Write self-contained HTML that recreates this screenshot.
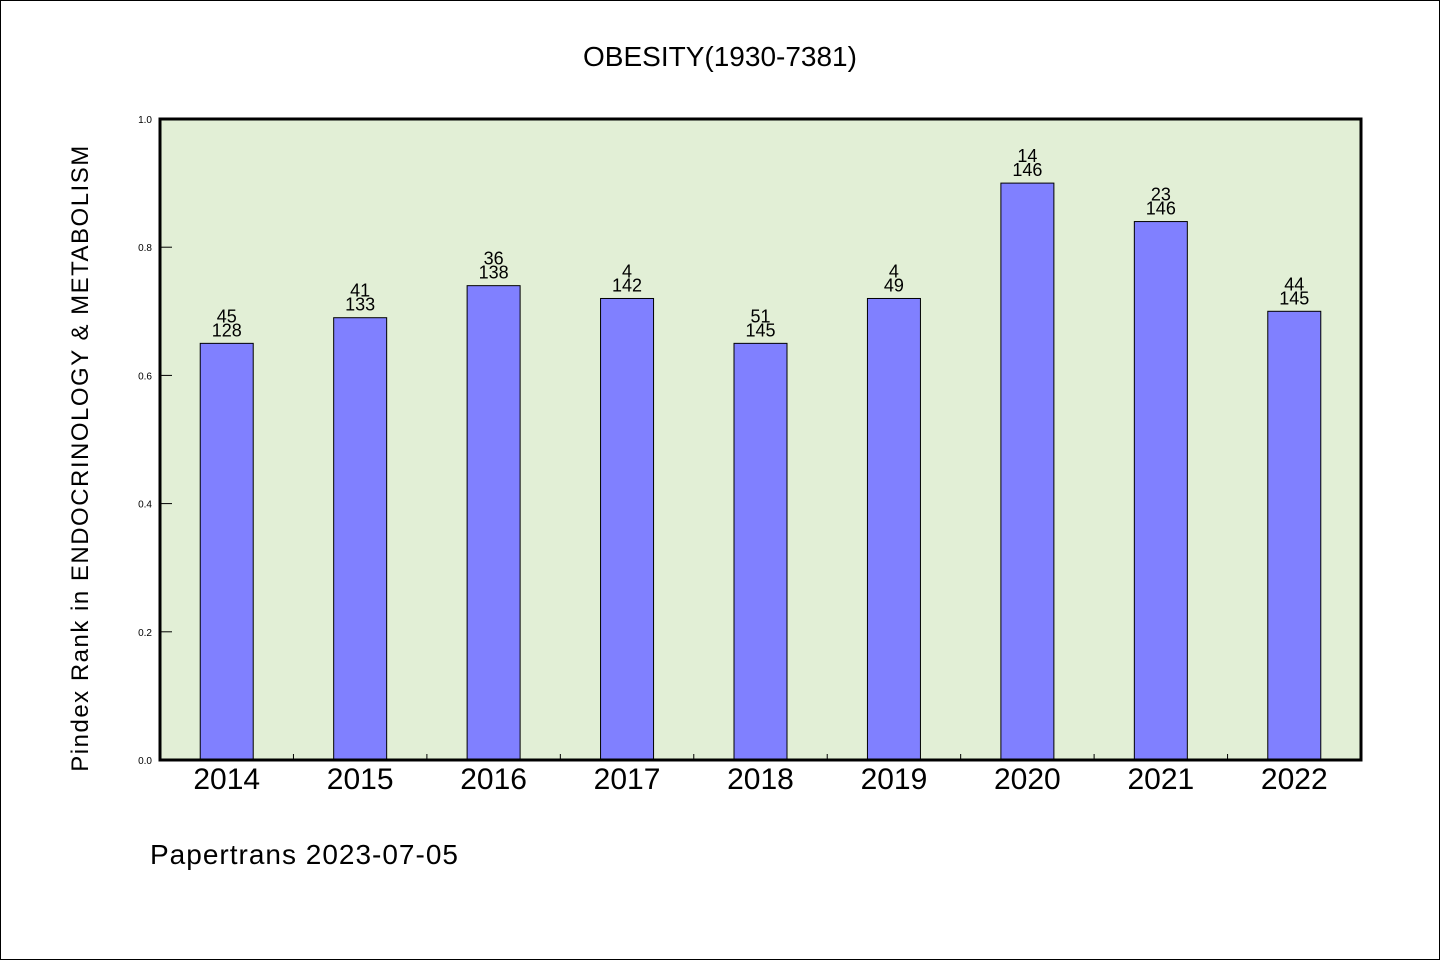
<!DOCTYPE html>
<html><head><meta charset="utf-8"><style>
body{margin:0;background:#fff}
svg{display:block}
text{font-family:"WenQuanYi Zen Hei","Liberation Sans",sans-serif}
</style></head><body>
<svg id="c" width="1440" height="960">
<rect x="0.5" y="0.5" width="1439" height="959" fill="#fff" stroke="#000"/>
<text x="720" y="66" font-size="28" text-anchor="middle">OBESITY(1930-7381)</text>
<rect x="160" y="119" width="1201" height="641" fill="#e2efd6"/>
<g id="bars"></g>
<g id="axes"></g>
<rect x="160" y="119" width="1201" height="641" fill="none" stroke="#000" stroke-width="3"/>
<text transform="translate(88,458) rotate(-90)" font-size="24" text-anchor="middle" letter-spacing="1.5">Pindex Rank in ENDOCRINOLOGY &amp; METABOLISM</text>
<text x="150" y="864" font-size="28" letter-spacing="1">Papertrans 2023-07-05</text>
</svg>
<script>
const categories=["2014","2015","2016","2017","2018","2019","2020","2021","2022"];
const values=[0.65,0.69,0.74,0.72,0.65,0.72,0.90,0.84,0.70];
const ranks=["45","41","36","4","51","4","14","23","44"];
const totals=["128","133","138","142","145","49","146","146","145"];
const yTicks=[0,0.2,0.4,0.6,0.8,1.0];
const yTickLabels=["0.0","0.2","0.4","0.6","0.8","1.0"];
const NS="http://www.w3.org/2000/svg";
const X0=160,X1=1361,Y0=760,Y1=119;
const band=(X1-X0)/categories.length;
const xc=i=>X0+band*(i+0.5);
const y=v=>Y0-(Y0-Y1)*v;
function mk(t,a,p){const e=document.createElementNS(NS,t);for(const k in a)e.setAttribute(k,a[k]);p.appendChild(e);return e;}
const bars=document.getElementById('bars'),axes=document.getElementById('axes');
const bw=53;
categories.forEach((c,i)=>{
 const r=mk('rect',{x:xc(i)-bw/2,y:y(values[i]),width:bw,height:Y0-y(values[i]),fill:'#8080ff',stroke:'#000','stroke-width':1},bars);
 
 
 const t1=mk('text',{x:xc(i),y:y(values[i])-21,'font-size':18,'text-anchor':'middle'},bars);t1.textContent=ranks[i];
 
 
 const t2=mk('text',{x:xc(i),y:y(values[i])-7,'font-size':18,'text-anchor':'middle'},bars);t2.textContent=totals[i];
 
 
 const xl=mk('text',{x:xc(i),y:789,'font-size':30,'text-anchor':'middle'},axes);xl.textContent=c;
 
 
 if(i>0){const tk=mk('line',{x1:X0+band*i,x2:X0+band*i,y1:Y0,y2:Y0-6,stroke:'#000'},axes);
 
 }
});
yTicks.forEach((v,i)=>{
 const tk=mk('line',{x1:X0,x2:X0+12,y1:y(v),y2:y(v),stroke:'#000'},axes);
 
 
 const l=mk('text',{x:X0-8,y:y(v)+4,'font-size':10,'text-anchor':'end'},axes);l.textContent=yTickLabels[i];
 
 
});
</script>
</body></html>
